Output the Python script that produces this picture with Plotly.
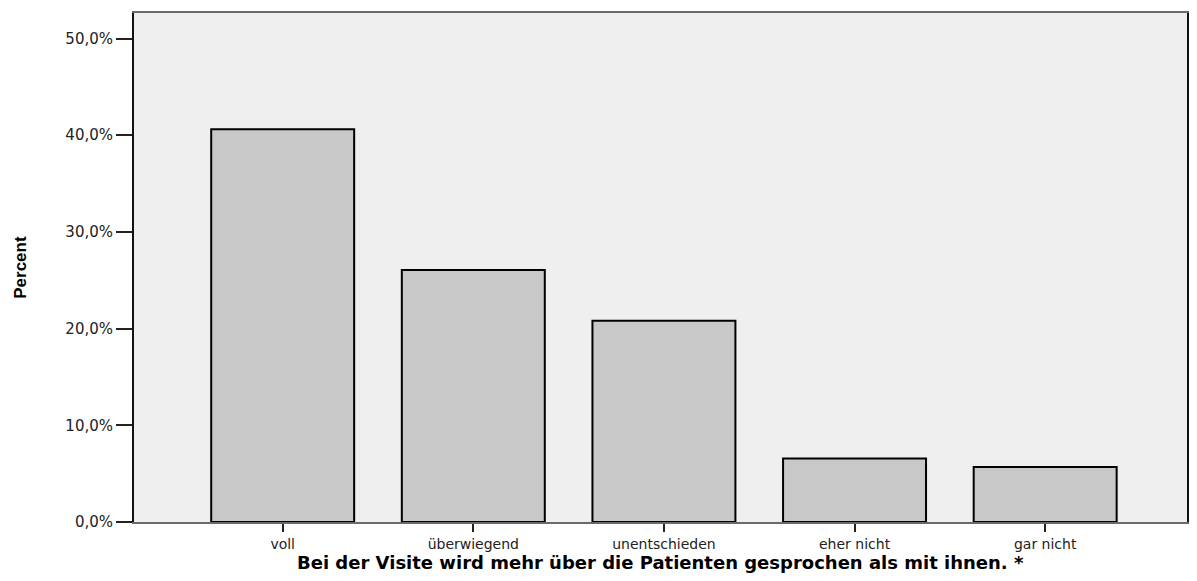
import plotly.graph_objects as go

# Antwortkategorien und Anteile (%)
kategorien = ["voll", "überwiegend", "unentschieden", "eher nicht", "gar nicht"]
prozent = [40.63, 26.07, 20.81, 6.56, 5.70]

y_ticks = [0, 10, 20, 30, 40, 50]
y_ticktext = ["0,0%", "10,0%", "20,0%", "30,0%", "40,0%", "50,0%"]

x_titel = "Bei der Visite wird mehr über die Patienten gesprochen als mit ihnen. *"
y_titel = "Percent"

FONT = "DejaVu Sans, Liberation Sans, Arial, sans-serif"

fig = go.Figure()
fig.add_trace(go.Bar(
    x=list(range(len(kategorien))), y=prozent,
    width=0.75,
    marker=dict(color="#c8c8c8", line=dict(color="#000000", width=2)),
    hoverinfo="skip",
))

# die Seite hat 8px Rand -> Figur etwas kleiner
fig.update_layout(
    width=1181, height=565,
    margin=dict(l=126, r=0, t=5, b=50.5),
    paper_bgcolor="#ffffff",
    plot_bgcolor="#efefef",
    showlegend=False,
    font=dict(family=FONT, size=14, color="#222222"),
)

fig.update_xaxes(
    range=[-0.78, 4.744],
    tickvals=list(range(len(kategorien))), ticktext=kategorien,
    ticks="outside", ticklen=8, tickwidth=2, tickcolor="#222222",
    showgrid=False, zeroline=False,
    showline=True, linecolor="#6a6a6a", linewidth=1.5, mirror=True,
    tickfont=dict(size=14, color="#222222"),
)
fig.update_yaxes(
    range=[0, 52.64],
    tickvals=y_ticks, ticktext=y_ticktext,
    ticks="outside", ticklen=16, tickwidth=2, tickcolor="#222222",
    showgrid=False, zeroline=False,
    showline=True, linecolor="#111111", linewidth=2, mirror=True,
    tickfont=dict(size=15, color="#222222"),
)

fig.add_annotation(
    text=x_titel, xref="paper", yref="paper",
    x=0.5, y=-0.105, xanchor="center", yanchor="bottom",
    showarrow=False,
    font=dict(family="DejaVu Sans, Liberation Sans, Arial", size=18,
              color="#000000", weight="bold"),
)
fig.add_annotation(
    text=y_titel, xref="paper", yref="paper",
    x=-0.108, y=0.5, xanchor="center", yanchor="middle",
    textangle=-90, showarrow=False,
    font=dict(family="Liberation Sans, Arial", size=17,
              color="#000000", weight="bold"),
)

fig.write_html("out.html")
